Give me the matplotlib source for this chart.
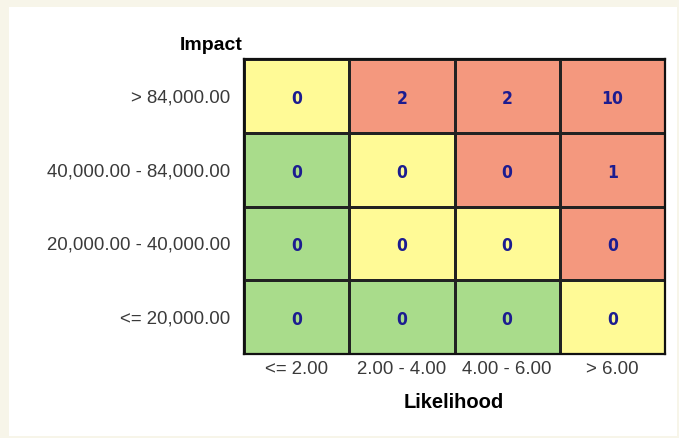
import matplotlib.pyplot as plt
import numpy as np
from matplotlib.colors import ListedColormap
from matplotlib.patches import Rectangle

# risk matrix data (rows listed top to bottom)
impact_labels = ['> 84,000.00', '40,000.00 - 84,000.00', '20,000.00 - 40,000.00', '<= 20,000.00']
likelihood_labels = ['<= 2.00', '2.00 - 4.00', '4.00 - 6.00', '> 6.00']
counts = [[0, 2, 2, 10],
          [0, 0, 0, 1],
          [0, 0, 0, 0],
          [0, 0, 0, 0]]
# 0 = low (green), 1 = medium (yellow), 2 = high (red)
levels = [[1, 2, 2, 2],
          [0, 1, 2, 2],
          [0, 1, 1, 2],
          [0, 0, 0, 1]]

cmap = ListedColormap(['#a9dc8b', '#fffa96', '#f4987e'])

fig = plt.figure(figsize=(6.79, 4.38), dpi=100, facecolor='#f7f5e9')
fig.patches.append(Rectangle((9/679, 2/438), 668/679, 429/438, transform=fig.transFigure,
                             facecolor='white', edgecolor='none', zorder=-1))

ax = fig.add_axes([244/679, 1-354/438, 421/679, 295/438])
lv = np.array(levels)[::-1]
cn = np.array(counts)[::-1]
ax.pcolormesh(np.arange(5), np.arange(5), lv, cmap=cmap, vmin=0, vmax=2,
              edgecolors='#222222', linewidth=1.0)
for i in range(4):
    for j in range(4):
        ax.text(j + 0.5, i + 0.46, str(cn[i, j]), ha='center', va='center',
                fontsize=12.5, fontweight='bold', color='#1c1c90',
                family='DejaVu Sans', fontstretch='condensed')

ax.set_xlim(0, 4)
ax.set_ylim(0, 4)
ax.set_xticks(np.arange(4) + 0.5)
ax.set_xticklabels(likelihood_labels)
ax.set_yticks(np.arange(4) + 0.5)
ax.set_yticklabels(impact_labels[::-1])
ax.tick_params(length=0, labelsize=13.4, labelcolor='#3a3a3a')
ax.tick_params(axis='y', pad=10)
ax.tick_params(axis='x', pad=5)
for lab in ax.get_xticklabels() + ax.get_yticklabels():
    lab.set_family('Liberation Sans')
for s in ax.spines.values():
    s.set_linewidth(1.6)
    s.set_color('#111111')

fig.text(243/679, 1-45/438, 'Impact', ha='right', va='center', fontsize=14,
         fontweight='bold', family='Liberation Sans')
fig.text(454/679, 1-403/438, 'Likelihood', ha='center', va='center', fontsize=14.5,
         fontweight='bold', family='Liberation Sans')

fig.savefig('out.png', dpi=100, facecolor=fig.get_facecolor())
